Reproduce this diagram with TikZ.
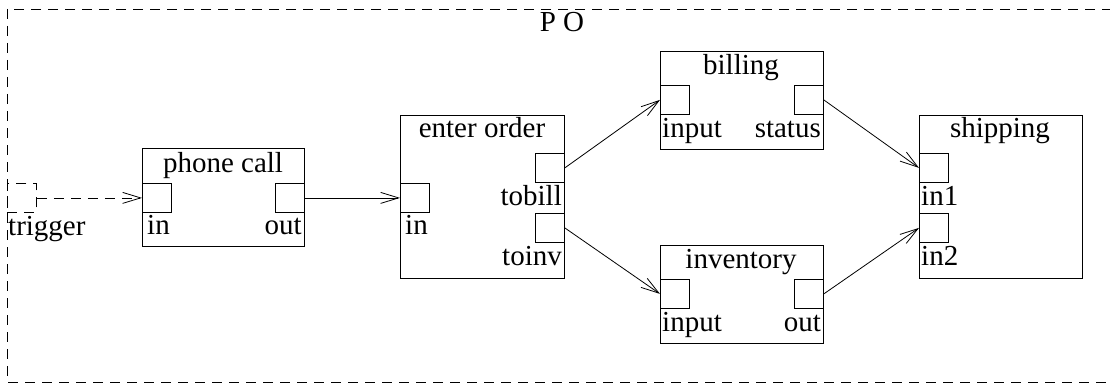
\documentclass[tikz,border=0pt]{standalone}
\usepackage{fontspec}
\setmainfont{Liberation Serif}
\usetikzlibrary{arrows.meta}
\begin{document}
\begin{tikzpicture}[x=1pt,y=-1pt,
  every node/.style={font=\fontsize{29}{31}\selectfont},
  box/.style={draw, line width=0.8pt, inner sep=0pt, anchor=north west},
  port/.style={draw, line width=0.8pt, inner sep=0pt, minimum width=29pt, minimum height=29pt, anchor=north west},
  lbl/.style={inner sep=0pt},
  dashpat/.style={dash pattern=on 10pt off 7pt},
  conn/.style={line width=0.8pt, -{Straight Barb[length=18pt,width=11pt,line width=0.8pt]}}
]
\useasboundingbox (0,0) rectangle (1110,385);
% outer dashed frame
\draw[dashpat, line width=0.8pt] (1112,9) -- (7,9) -- (7,382) -- (1112,382);
\node[lbl, anchor=base] (po) at (562,32) {P O};

% trigger port
\node[port, dashpat] (trig) at (7,183) {};
\node[lbl, anchor=base west] (trigl) at (8,235) {trigger};

% phone call
\node[box, minimum width=162pt, minimum height=98pt] (phone) at (142,148) {};
\node[lbl, anchor=base] (phonet) at (223,172) {phone call};
\node[port] (phonein) at (142,183) {};
\node[port] (phoneout) at (275,183) {};
\node[lbl, anchor=base west] at (147,234) {in};
\node[lbl, anchor=base east] at (302,234) {out};

% enter order
\node[box, minimum width=164pt, minimum height=163pt] (eo) at (400,115) {};
\node[lbl, anchor=base] (eot) at (482,138) {enter order};
\node[port] (eoin) at (400,183) {};
\node[port] (eobill) at (535,153) {};
\node[port] (eoinv) at (535,213) {};
\node[lbl, anchor=base west] at (405,234) {in};
\node[lbl, anchor=base east] at (562,205) {tobill};
\node[lbl, anchor=base east] at (562,265) {toinv};

% billing
\node[box, minimum width=163pt, minimum height=98pt] (bill) at (660,51) {};
\node[lbl, anchor=base] (billt) at (741,75) {billing};
\node[port] (billin) at (660,85) {};
\node[port] (billst) at (794,85) {};
\node[lbl, anchor=base west] at (662,137) {input};
\node[lbl, anchor=base east] at (821,137) {status};

% inventory
\node[box, minimum width=163pt, minimum height=98pt] (inv) at (660,245) {};
\node[lbl, anchor=base] (invt) at (741,268) {inventory};
\node[port] (invin) at (660,279) {};
\node[port] (invout) at (794,279) {};
\node[lbl, anchor=base west] at (662,331) {input};
\node[lbl, anchor=base east] at (821,331) {out};

% shipping
\node[box, minimum width=163pt, minimum height=163pt] (ship) at (919,115) {};
\node[lbl, anchor=base] (shipt) at (1000,138) {shipping};
\node[port] (shipin1) at (919,153) {};
\node[port] (shipin2) at (919,213) {};
\node[lbl, anchor=base west] at (921,205) {in1};
\node[lbl, anchor=base west] at (921,265) {in2};

% connectors
\draw[conn, dashpat] (trig.east) -- (phonein.west);
\draw[conn] (phoneout.east) -- (eoin.west);
\draw[conn] (eobill.east) -- (billin.west);
\draw[conn] (eoinv.east) -- (invin.west);
\draw[conn] (billst.east) -- (shipin1.west);
\draw[conn] (invout.east) -- (shipin2.west);
\end{tikzpicture}
\end{document}
